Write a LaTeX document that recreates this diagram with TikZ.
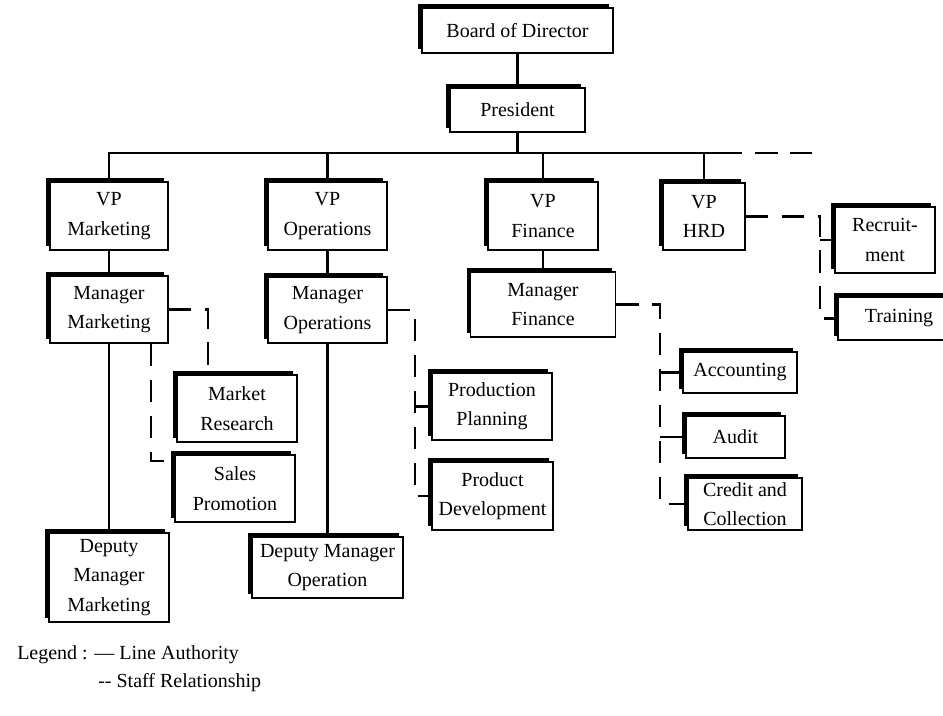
\documentclass[tikz,border=0pt]{standalone}
\usepackage{fontspec}
\setmainfont{Liberation Serif}
\usetikzlibrary{shadows,calc}

\tikzset{
    orgbox/.style={draw, line width=1pt, fill=white, align=center, inner sep=2pt,
      font=\fontsize{15}{22}\selectfont,
      general shadow={fill=black, shadow xshift=-3pt, shadow yshift=3pt}},
    boxsize/.style 2 args={minimum width=#1*0.75pt, minimum height=#2*0.75pt},
    authority/.style={line width=1.6pt},
    staff/.style={line width=1.6pt, dash pattern=on 17pt off 10pt}
}

\begin{document}
\begin{tikzpicture}[x=0.75pt,y=-0.75pt]
        \useasboundingbox (0,0) rectangle (943,715);
        % top of the chart
        \node[orgbox, boxsize={191}{45}] (board) at (517.5,30.5) {Board of Director};
        \node[orgbox, boxsize={135}{44}] (pres) at (517.5,110) {President};
        % vice presidents
        \node[orgbox, boxsize={118}{68}] (vpm) at (109,216) {VP\\Marketing};
        \node[orgbox, boxsize={119}{68}] (vpo) at (327.5,216) {VP\\Operations};
        \node[orgbox, boxsize={110}{68}] (vpf) at (543,216) {VP\\Finance};
        \node[orgbox, boxsize={82}{67}] (vph) at (704,216.5) {VP\\HRD};
        % managers
        \node[orgbox, boxsize={118}{67}] (mm) at (109,309.5) {Manager\\Marketing};
        \node[orgbox, boxsize={119}{66}] (mo) at (327.5,310) {Manager\\Operations};
        \node[orgbox, boxsize={145}{65}] (mf) at (543,304.5) {Manager\\Finance};
        \node[orgbox, boxsize={100}{66}] (rec) at (885,240) {Recruit-\\ment};
        \node[orgbox, boxsize={122}{43}] (trn) at (899,318.5) {Training};
        % staff units and deputies
        \node[orgbox, boxsize={120}{67}] (mr) at (237,408.5) {Market\\Research};
        \node[orgbox, boxsize={120}{67}] (sp) at (235,488.5) {Sales\\Promotion};
        \node[orgbox, boxsize={120}{89}] (dmm) at (109,577.5) {Deputy\\Manager\\Marketing};
        \node[orgbox, boxsize={120}{67}] (pp) at (492,406.5) {Production\\Planning};
        \node[orgbox, boxsize={121}{68}] (pd) at (492.5,496) {Product\\Development};
        \node[orgbox, boxsize={151}{61}] (dmo) at (327.5,567.5) {Deputy Manager\\Operation};
        \node[orgbox, boxsize={114}{41}] (acc) at (740,372.5) {Accounting};
        \node[orgbox, boxsize={99}{42}] (aud) at (735.5,437) {Audit};
        \node[orgbox, boxsize={114}{52}] (cc) at (745,504) {Credit and\\Collection};
        % line authority
        \coordinate (busL) at (109,153);
        \coordinate (busR) at (742,153);
        \coordinate (busD) at (755,153);
        \coordinate (busE) at (813,153);
        \draw[authority] (board) -- (pres);
        \draw[authority] (pres) -- (pres |- busL);
        \draw[authority] (vpm) |- (busR);
        \draw[staff, dash pattern=on 17pt off 9pt] (busD) -- (busE);
        \foreach \n in {vpo,vpf,vph}
            \draw[authority] (\n) -- (\n |- busL);
        \draw[authority] (vpm) -- (mm);
        \draw[authority] (vpo) -- (mo);
        \draw[authority] (vpf) -- (mf);
        \draw[authority] (mm) -- (dmm);
        \draw[authority] (mo) -- (dmo);
        % staff relationship
        \coordinate (opsA) at (415,0);
        \coordinate (finA) at (660,0);
        \coordinate (hrdA) at (820,0);
        \draw[staff] (mm.east) -| ($(mr.north west)!0.26!(mr.north east)$);
        \draw[staff] ($(mm.south west)!0.85!(mm.south east)$) |- ($(sp.north west)!0.1!(sp.south west)$);
        \draw[staff] (mo.east) -| (opsA |- pd.west) -- (pd.west);
        \draw[authority] (opsA |- pp.west) -- (pp.west);
        \draw[staff] (mf.east) -| (finA |- cc.west) -- (cc.west);
        \foreach \n in {acc,aud}
            \draw[authority] (finA |- \n.west) -- (\n.west);
        \draw[staff] (vph.east) -| (hrdA |- trn.west) -- (trn.west);
        \draw[authority] (hrdA |- rec.west) -- (rec.west);
        % legend
        \node[anchor=west, inner sep=0, font=\fontsize{15}{22}\selectfont] (legA) at (17,655) {Legend : --- Line Authority};
        \node[anchor=west, inner sep=0, font=\fontsize{15}{22}\selectfont] (legB) at (98,683) {-{}- Staff Relationship};
\end{tikzpicture}
\end{document}
